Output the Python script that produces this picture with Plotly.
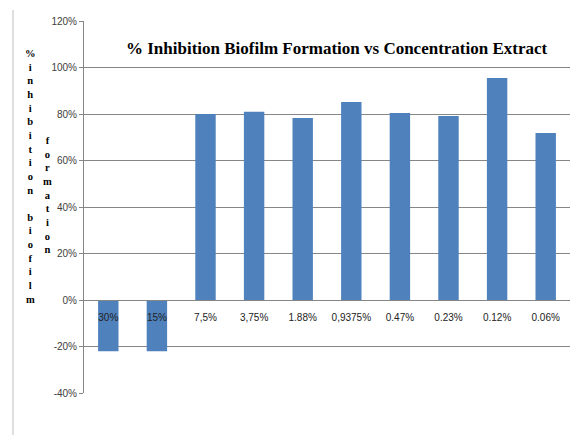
import plotly.graph_objects as go

categories = ["30%", "15%", "7,5%", "3,75%", "1.88%", "0,9375%", "0.47%", "0.23%", "0.12%", "0.06%"]
inhibition = [-0.22, -0.22, 0.80, 0.81, 0.783, 0.852, 0.804, 0.791, 0.955, 0.718]
y_ticks = [-0.4, -0.2, 0, 0.2, 0.4, 0.6, 0.8, 1.0, 1.2]
y_tick_text = ["-40%", "-20%", "0%", "20%", "40%", "60%", "80%", "100%", "120%"]
title_text = "% Inhibition Biofilm Formation vs Concentration Extract"
ytitle_col1 = "%inhibition biofilm"
ytitle_col2 = "formation"

fig = go.Figure()
fig.add_trace(go.Bar(x=categories, y=inhibition, marker=dict(color="#4F81BD", line=dict(width=0))))

W, H = 572, 435
top, bottom = 21, 393
y_min, y_max = -0.4, 1.2
zero_pos = (0 - y_min) / (y_max - y_min)

fig.update_layout(
    width=W, height=H,
    margin=dict(l=84, r=2, t=top, b=H - bottom),
    paper_bgcolor="white", plot_bgcolor="white",
    showlegend=False,
    bargap=0.58,
    xaxis=dict(
        anchor="free", position=zero_pos,
        showline=True, linecolor="#868686", linewidth=1,
        ticks="", showgrid=False, ticklabelstandoff=8,
        tickfont=dict(family="Liberation Sans", size=10, color="#222222"),
        fixedrange=True,
    ),
    yaxis=dict(
        range=[y_min, y_max], tickvals=y_ticks, ticktext=y_tick_text,
        showgrid=True, gridcolor="#868686", gridwidth=1,
        showline=True, linecolor="#868686", linewidth=1,
        zeroline=False,
        ticks="outside", ticklen=4, tickcolor="#868686",
        tickfont=dict(family="Liberation Sans", size=10, color="#404040"),
    ),
)

fig.add_annotation(
    text="<b>" + title_text + "</b>", xref="paper", yref="paper",
    x=0.52, y=0.925, xanchor="center", yanchor="middle", showarrow=False,
    font=dict(family="Liberation Serif, Times New Roman, serif", size=17, color="black"),
)

def stack(s):
    return "<br>".join(ch if ch != " " else "&nbsp;" for ch in s)

fig.add_annotation(
    text="<b>" + stack(ytitle_col1) + "</b>", xref="paper", yref="paper",
    x=(30 - 84) / (W - 86), y=(bottom - 46) / (bottom - top), xanchor="center", yanchor="top",
    showarrow=False, align="center",
    font=dict(family="Liberation Serif, serif", size=10.5, color="black"),
)
fig.add_annotation(
    text="<b>" + stack(ytitle_col2) + "</b>", xref="paper", yref="paper",
    x=(47 - 84) / (W - 86), y=(bottom - 133) / (bottom - top), xanchor="center", yanchor="top",
    showarrow=False, align="center",
    font=dict(family="Liberation Serif, serif", size=10.5, color="black"),
)

fig.add_shape(type="line", xref="paper", yref="paper",
              x0=(13 - 84) / (W - 86), x1=(13 - 84) / (W - 86),
              y0=(bottom - 10) / (bottom - top), y1=(bottom - 435) / (bottom - top),
              line=dict(color="#BFBFBF", width=1))

fig.write_html("out.html")
